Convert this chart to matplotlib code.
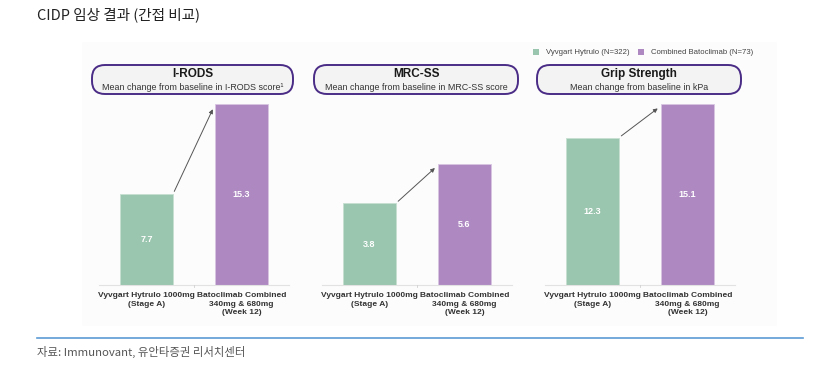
import matplotlib
matplotlib.use("Agg")
import matplotlib.pyplot as plt
from matplotlib.patches import FancyBboxPatch, Rectangle

# data
panel_titles = ["I-RODS", "MRC-SS", "Grip Strength"]
panel_subtitles = [
    "Mean change from baseline in I-RODS score\u00b9",
    "Mean change from baseline in MRC-SS score",
    "Mean change from baseline in kPa",
]
vyvgart = [7.7, 3.8, 12.3]
batoclimab = [15.3, 5.6, 15.1]
ymax = [15.3, 8.4, 15.1]
categories = ["Vyvgart Hytrulo 1000mg\n(Stage A)",
              "Batoclimab Combined\n340mg & 680mg\n(Week 12)"]
legend_labels = ["Vyvgart Hytrulo (N=322)", "Combined Batoclimab (N=73)"]

green = "#9ac5ae"
purple = "#ae89c1"
box_edge = "#4a2c86"
W, H = 832, 376

plt.rcParams['font.family'] = ['Liberation Sans', 'DejaVu Sans']

fig = plt.figure(figsize=(W / 100, H / 100), dpi=100, facecolor="white")

def px(x, y, w, h):
    # pixel box (top-left origin) -> figure fraction
    return [x / W, (H - y - h) / H, w / W, h / H]

# faint background area
bg = fig.add_axes([0, 0, 1, 1], zorder=-5)
bg.axis("off")
bg.set_xlim(0, W)
bg.set_ylim(H, 0)
bg.add_patch(Rectangle((82, 42), 695, 284, color="#fcfcfc", lw=0))

# header / footer
fig.text(37 / W, 1 - 15 / H, "CIDP 임상 결과 (간접 비교)", fontsize=10.5,
         family=['Noto Sans CJK KR', 'DejaVu Sans'], color="#222222", va="center")
bg.plot([37, 803], [338, 338], color="#5b9bd5", lw=1.2)
fig.text(37 / W, 1 - 352 / H, "자료: Immunovant, 유안타증권 리서치센터", fontsize=8.2,
         family=['Noto Sans CJK KR', 'DejaVu Sans'], color="#555555", va="center")

lefts = [99, 322, 545]
boxes = [(92, 201), (314, 204), (537, 204)]
for i in range(3):
    ax = fig.add_axes(px(lefts[i], 104, 190, 181))
    ax.bar([0, 1], [vyvgart[i], batoclimab[i]], width=0.56,
           color=[green, purple], edgecolor=["#c6dfd1", "#d8c5e2"], lw=0.6, zorder=2)
    ax.set_xlim(-0.5, 1.5)
    ax.set_ylim(0, ymax[i])
    ax.axis("off")
    ax.plot([-0.5, 1.5], [0, 0], color="#e2e2e2", lw=0.8, clip_on=False)
    ax.plot([0.5, 0.5], [0, -0.012 * ymax[i]], color="#d0d0d0", lw=0.6, clip_on=False)
    for xi, v in zip([0, 1], [vyvgart[i], batoclimab[i]]):
        ax.text(xi, v / 2, f"{v}", color="white", fontsize=6.5, fontweight="bold",
                ha="center", va="center")
    ax.annotate("", xy=(0.71, batoclimab[i] * 0.985), xytext=(0.28, vyvgart[i]),
                arrowprops=dict(arrowstyle="-|>", color="#555555", lw=0.7,
                                mutation_scale=6), annotation_clip=False)
    for xi, lab in zip([0, 1], categories):
        ax.text(xi, -0.04 * ymax[i], lab, fontsize=6.0, fontweight="bold",
                color="#333333", ha="center", va="top", linespacing=1.3)

    # title box
    bx, bw = boxes[i]
    bg.add_patch(FancyBboxPatch((bx, 65), bw, 29,
                                boxstyle="round,pad=0,rounding_size=13",
                                fc="#f3f3f3", ec=box_edge, lw=1.4))
    bg.text(bx + bw / 2, 74, panel_titles[i], fontsize=8.5, fontweight="bold",
            color="#1a1a1a", ha="center", va="center")
    bg.text(bx + bw / 2, 87, panel_subtitles[i], fontsize=6.4,
            color="#333333", ha="center", va="center")

# legend
for (x0, tx), col, lab in zip([(533, 546), (638, 651)], [green, purple], legend_labels):
    bg.add_patch(Rectangle((x0, 49), 6, 6, color=col, lw=0))
    bg.text(tx, 52, lab, fontsize=5.6, color="#444444", va="center")

fig.savefig("out.png", dpi=100, facecolor="white")
